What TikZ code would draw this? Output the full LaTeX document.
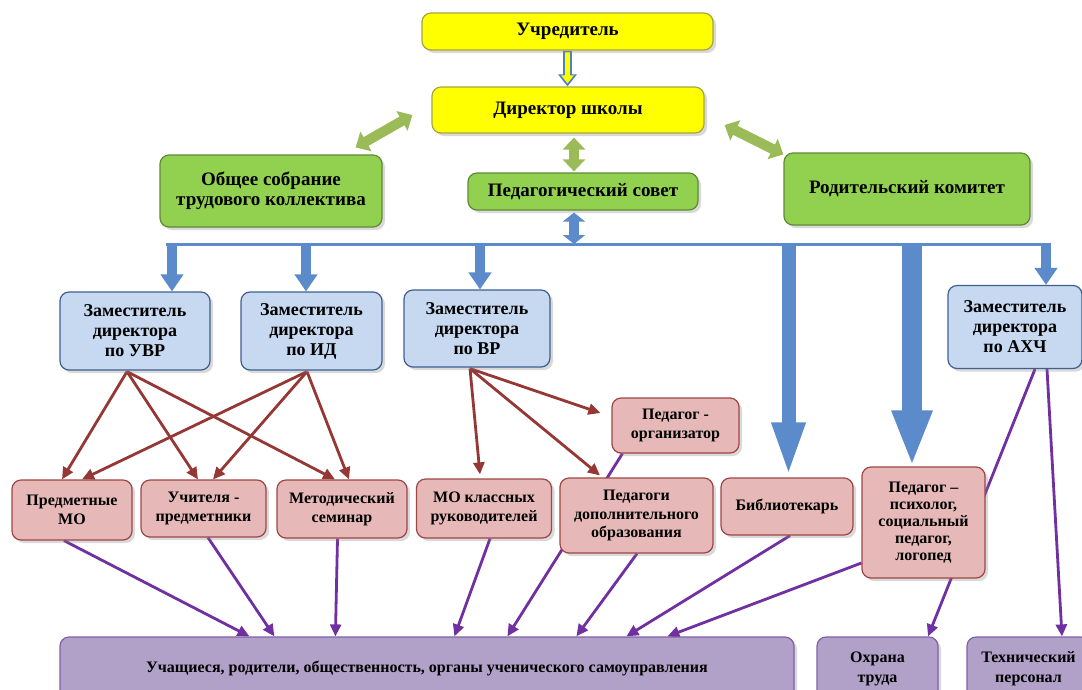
\documentclass[tikz,border=0pt]{standalone}
\usepackage{fontspec}
\setmainfont{Liberation Serif}
\usetikzlibrary{shadows,arrows.meta,calc}
\pgfdeclarelayer{bg}
\pgfsetlayers{bg,main}
\definecolor{yfill}{HTML}{FFFF00}
\definecolor{yline}{HTML}{A6A640}
\definecolor{gfill}{HTML}{92D050}
\definecolor{gline}{HTML}{5F8A35}
\definecolor{bfill}{HTML}{C6D9F1}
\definecolor{bline}{HTML}{3F5F8F}
\definecolor{pfill}{HTML}{E6B9B8}
\definecolor{pline}{HTML}{A04545}
\definecolor{vfill}{HTML}{B1A0C7}
\definecolor{vline}{HTML}{7F60A8}
\definecolor{redarr}{HTML}{953735}
\definecolor{violarr}{HTML}{7030A0}
\definecolor{bluearr}{HTML}{5B8BCB}
\definecolor{greenarr}{HTML}{9BBB59}
\definecolor{yarrline}{HTML}{4F81BD}
\tikzset{
  box/.style={draw, line width=1.2pt, rounded corners=9pt, align=center, inner sep=2pt,
    drop shadow={shadow xshift=3pt, shadow yshift=-3pt, opacity=0.3}},
  ybox/.style={box, fill=yfill, draw=yline},
  gbox/.style={box, fill=gfill, draw=gline},
  bbox/.style={box, fill=bfill, draw=bline},
  pbox/.style={box, fill=pfill, draw=pline},
  vbox/.style={box, fill=vfill, draw=vline},
  ftop/.style={font=\bfseries\fontsize{19}{20}\selectfont},
  fzam/.style={font=\bfseries\fontsize{18}{20}\selectfont},
  fpink/.style={font=\bfseries\fontsize{16}{18.5}\selectfont},
  fpsy/.style={font=\bfseries\fontsize{16}{17}\selectfont},
  fbot/.style={font=\bfseries\fontsize{16}{18}\selectfont},
  fbot2/.style={font=\bfseries\fontsize{16}{20}\selectfont},
  rarrow/.style={redarr, line width=2.8pt, -{Triangle[length=12pt,width=11pt]}},
  parrow/.style={violarr, line width=2.8pt, -{Triangle[length=12pt,width=11pt]}},
  barrow/.style={bluearr, line width=10pt, -{Triangle[length=17pt,width=22pt]}},
  bigarrow/.style={bluearr, line width=14pt, -{Triangle[length=55pt,width=30pt]}},
  hugearrow/.style={bluearr, line width=20pt, -{Triangle[length=56pt,width=37pt]}},
  bdarrow/.style={bluearr, line width=10pt, {Triangle[length=9pt,width=22pt]}-{Triangle[length=9pt,width=22pt]}},
  garrow/.style={greenarr, line width=10pt, {Triangle[length=12pt,width=22pt]}-{Triangle[length=12pt,width=22pt]}},
}
\begin{document}
\begin{tikzpicture}[x=1pt,y=-1pt]
\useasboundingbox (0,0) rectangle (1082,689);
% top
\node[ybox, ftop, minimum width=291pt, minimum height=37pt] (uch) at (567.5,31.5) {Учредитель};
\node[ybox, ftop, minimum width=272pt, minimum height=46pt] (dir) at (568,110) {Директор школы};
\node[gbox, ftop, minimum width=222pt, minimum height=72pt] (obs) at (271,191) {Общее собрание\\трудового коллектива};
\node[gbox, ftop, minimum width=230pt, minimum height=37pt] (ped) at (583,191.5) {Педагогический совет};
\node[gbox, ftop, minimum width=246pt, minimum height=72pt] (rod) at (907,189) {Родительский комитет};
% deputies
\node[bbox, fzam, minimum width=150pt, minimum height=78pt] (uvr) at (135,331) {Заместитель\\директора\\по УВР};
\node[bbox, fzam, minimum width=141pt, minimum height=78pt] (id) at (311.5,331) {Заместитель\\директора\\по ИД};
\node[bbox, fzam, minimum width=146pt, minimum height=77pt] (vr) at (477,328.5) {Заместитель\\директора\\по ВР};
\node[bbox, fzam, minimum width=134pt, minimum height=83pt] (ahch) at (1015,327) {Заместитель\\директора\\по АХЧ};
% pink row
\node[pbox, fpink, minimum width=120pt, minimum height=60pt] (pmo) at (72,510) {Предметные\\МО};
\node[pbox, fpink, minimum width=125pt, minimum height=57pt] (uchp) at (203.5,508.5) {Учителя -\\предметники};
\node[pbox, fpink, minimum width=130pt, minimum height=58pt] (met) at (342,509) {Методический\\семинар};
\node[pbox, fpink, minimum width=135pt, minimum height=59pt] (mok) at (484,508.5) {МО классных\\руководителей};
\node[pbox, fpink, minimum width=153pt, minimum height=75pt] (pdo) at (636.5,515.5) {Педагоги\\дополнительного\\образования};
\node[pbox, fpink, minimum width=132pt, minimum height=57pt] (bib) at (787,506.5) {Библиотекарь};
\node[pbox, fpsy, minimum width=123pt, minimum height=111pt] (psy) at (923.5,522.5) {Педагог –\\психолог,\\социальный\\педагог,\\логопед};
\node[pbox, fpink, minimum width=127pt, minimum height=55pt] (org) at (675.5,425.5) {Педагог -\\организатор};
% bottom
\node[vbox, fbot, minimum width=734pt, minimum height=63pt] (stud) at (427,668.5) {Учащиеся, родители, общественность, органы ученического самоуправления};
\node[vbox, fbot2, minimum width=121pt, minimum height=63pt] (ohr) at (877.5,668.5) {Охрана\\труда};
\node[vbox, fbot2, minimum width=123pt, minimum height=63pt] (tech) at (1028.5,668.5) {Технический\\персонал};

\begin{pgfonlayer}{bg}
% yellow arrow
\draw[yarrline, line width=9pt, -{Triangle[length=12pt,width=18pt]}] (uch.south) -- (uch.south |- dir.north);
\draw[yfill, line width=5pt, shorten >=2pt, -{Triangle[length=8pt,width=12pt]}] ($(uch.south)+(0,1)$) -- ($(uch.south |- dir.north)+(0,-1)$);
% green arrows
\draw[garrow] ($(obs.north east)+(-27,-7)$) -- ($(dir.west)+(-19,5)$);
\draw[garrow] ($(dir.east)+(20,15)$) -- ($(rod.north west)+(0,2)$);
\draw[garrow] ($(dir.south)+(6,4)$) -- ($(ped.north)+(-9,-1)$);
% bus
\coordinate (busL) at (166,244);
\coordinate (busR) at (1051,244);
\draw[bluearr, line width=3pt] (busL) -- (busR);
\coordinate (pb) at ($(ped.south)+(-9,2)$);
\draw[bdarrow] (pb) -- (pb |- busL);
\coordinate (t1) at ($(uvr.north)+(37,0)$);
\coordinate (t2) at ($(id.north)+(-5.5,0)$);
\coordinate (t3) at ($(vr.north)+(3,0)$);
\coordinate (t4) at ($(bib.north)+(1.5,0)$);
\coordinate (t5) at ($(psy.north)+(-11.5,0)$);
\coordinate (t6) at ($(ahch.north)+(31,0)$);
\draw[barrow] ($(t1 |- busL)+(0,-1.5)$) -- (t1);
\draw[barrow] ($(t2 |- busL)+(0,-1.5)$) -- (t2);
\draw[barrow] ($(t3 |- busL)+(0,-1.5)$) -- (t3);
\draw[barrow] ($(t6 |- busL)+(0,-1.5)$) -- (t6);
\draw[bigarrow] ($(t4 |- busL)+(0,-1.5)$) -- (t4);
\draw[hugearrow] ($(t5 |- busL)+(0,-1.5)$) -- (t5);
% red arrows
\draw[rarrow] ($(uvr.south)+(-8,1)$) -- ($(pmo.north)+(-10,0)$);
\draw[rarrow] ($(uvr.south)+(-8,1)$) -- ($(uchp.north)+(-5.5,0)$);
\draw[rarrow] ($(uvr.south)+(-8,1)$) -- ($(met.north)+(-7,0)$);
\draw[rarrow] ($(id.south)+(-4.5,1)$) -- ($(pmo.north)+(10,0)$);
\draw[rarrow] ($(id.south)+(-4.5,1)$) -- ($(uchp.north)+(9.5,0)$);
\draw[rarrow] ($(id.south)+(-4.5,1)$) -- ($(met.north)+(7,0)$);
\draw[rarrow] ($(vr.south)+(-7,1)$) -- ($(mok.north)+(-4,-4)$);
\draw[rarrow] ($(vr.south)+(-7,1)$) -- ($(pdo.north)+(-36.5,-2)$);
\draw[rarrow] ($(vr.south)+(-7,1)$) -- ($(org.west)+(-11,-12.5)$);
% violet arrows
\draw[parrow] ($(pmo.south)+(-8,0)$) -- ($(stud.north west)+(190,0)$);
\draw[parrow] ($(uchp.south)+(4.5,0)$) -- ($(stud.north west)+(215,0)$);
\draw[parrow] ($(met.south)+(-4.5,0)$) -- ($(stud.north west)+(276,0)$);
\draw[parrow] ($(mok.south)+(6,0)$) -- ($(stud.north west)+(395,0)$);
\draw[parrow] ($(org.south west)+(11,0)$) -- ($(stud.north west)+(448,0)$);
\draw[parrow] ($(pdo.south)+(0.5,0)$) -- ($(stud.north west)+(517,0)$);
\draw[parrow] ($(bib.south)+(3,0)$) -- ($(stud.north west)+(567,0)$);
\draw[parrow] ($(psy.west)+(0,40.5)$) -- ($(stud.north west)+(608,0)$);
\draw[parrow] ($(ahch.south)+(20,0)$) -- ($(ohr.north)+(50.5,0)$);
\draw[parrow] ($(ahch.south)+(32,0)$) -- ($(tech.north)+(33.5,0)$);
\end{pgfonlayer}
\end{tikzpicture}
\end{document}
